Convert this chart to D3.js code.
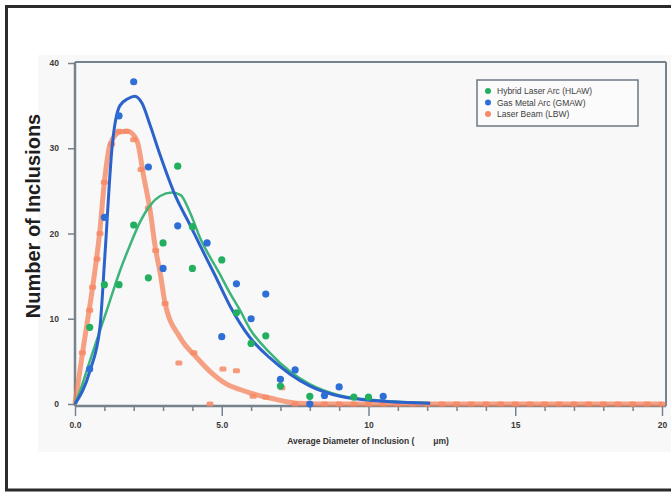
<!DOCTYPE html>
<html><head><meta charset="utf-8">
<script src="https://cdn.jsdelivr.net/npm/d3@7"></script>
<style>html,body{margin:0;padding:0;background:#fff;}svg{display:block;}</style>
</head><body>
<svg id="chart" width="671" height="494"></svg>
<script>
// ---- data ----
const xTickValues = [0, 5, 10, 15, 20];
const xTickLabels = ["0.0", "5.0", "10", "15", "20"];
const yTickValues = [0, 10, 20, 30, 40];
const yTickLabels = ["0", "10", "20", "30", "40"];
const seriesNames = ["Hybrid Laser Arc (HLAW)", "Gas Metal Arc (GMAW)", "Laser Beam (LBW)"];

const hlawX = [0.5, 1.0, 1.5, 2.0, 2.5, 3.0, 3.5, 4.0, 4.0, 5.0, 5.5, 6.0, 6.5, 7.0, 8.0, 9.5, 10.0];
const hlawY = [9, 14, 14, 21, 14.8, 18.9, 27.9, 20.8, 15.9, 16.9, 10.7, 7.1, 8.0, 2.1, 0.9, 0.8, 0.8];

const gmawX = [0.5, 1.0, 1.5, 2.0, 2.5, 3.0, 3.5, 4.5, 5.0, 5.5, 6.0, 6.5, 7.0, 7.5, 8.0, 8.5, 9.0, 10.5];
const gmawY = [4.1, 21.9, 33.8, 37.8, 27.8, 15.9, 20.9, 18.9, 7.9, 14.1, 10.0, 12.9, 2.9, 4.0, 0, 1.0, 2.0, 0.9];

const lbwX = [0.25, 0.5, 0.6, 0.75, 0.85, 1.0, 1.25, 1.5, 1.75, 2.0, 2.25, 2.5, 2.75, 3.07, 3.54, 4.05, 4.6, 5.04, 5.5, 6.07, 6.5, 7.05,
  7.5, 8.0, 8.5, 9.0, 9.5, 10.0, 10.5, 11.0, 11.5, 12.0, 12.5, 13.0, 13.5, 14.0, 14.5, 15.0, 15.5, 16.0, 16.5, 17.0, 17.5, 18.0, 18.5, 19.0, 19.5, 20.0];
const lbwY = [6, 11, 13.7, 17, 20, 26, 30.5, 32, 32, 31, 27.5, 23, 18, 11.8, 4.8, 6.0, 0, 4.1, 3.9, 0.9, 0.8, 1.9,
  0, 0, 0, 0, 0, 0, 0, 0, 0, 0, 0, 0, 0, 0, 0, 0, 0, 0, 0, 0, 0, 0, 0, 0, 0, 0];

// fitted curves
const hlawFitX = [0, 0.17, 0.51, 0.85, 1.19, 1.53, 1.87, 2.21, 2.56, 2.9, 3.3, 3.6, 3.9, 4.26, 4.94, 5.28, 5.62, 5.96, 6.64, 7.33, 8.01, 9.03, 10.39, 12.1];
const hlawFitY = [0, 1.5, 5.1, 8.6, 12.1, 15.6, 18.6, 21.3, 23.3, 24.4, 24.8, 24.5, 22.6, 19.5, 15.2, 13.0, 11.0, 8.8, 6.0, 3.8, 2.3, 1.0, 0.4, 0.1];

const gmawFitX = [0, 0.51, 0.85, 1.02, 1.26, 1.53, 1.8, 2.04, 2.28, 2.56, 2.9, 3.41, 3.92, 4.26, 4.77, 5.28, 5.96, 6.64, 7.33, 8.01, 9.03, 10.39, 12.1];
const gmawFitY = [0, 3.9, 9.0, 17.5, 30.0, 35.0, 35.8, 36.1, 35.3, 32.7, 29.2, 24.5, 21.0, 18.6, 15.1, 11.5, 7.8, 5.4, 3.5, 2.1, 0.9, 0.35, 0.1];

const lbwFitX = [0, 0.3, 0.6, 0.85, 1.0, 1.2, 1.53, 1.8, 2.11, 2.35, 2.56, 2.73, 2.92, 3.07, 3.58, 4.16, 4.7, 5.18, 5.62, 5.96, 6.64, 7.56, 9.0, 20.0];
const lbwFitY = [0, 7, 13.7, 20.4, 26, 30.5, 31.9, 32.0, 30.9, 26.5, 22.7, 18.5, 15.0, 11.8, 7.8, 5.4, 3.5, 2.3, 1.7, 1.3, 0.7, 0.1, 0, 0];

// ---- drawing ----
const svg = d3.select("#chart");
const FONT = "Liberation Sans, Arial, sans-serif";

// outer frame
svg.append("rect").attr("x", 6.5).attr("y", 6.5).attr("width", 700).attr("height", 483.5)
  .attr("fill", "#fff").attr("stroke", "#2b2b2b").attr("stroke-width", 3);
// chart picture background
svg.append("rect").attr("x", 38).attr("y", 55).attr("width", 640).attr("height", 397)
  .attr("fill", "#f9f8f8");

const x = d3.scaleLinear().domain([0, 20]).range([75, 662]);
const y = d3.scaleLinear().domain([0, 40]).range([404, 63]);

const axisColor = "#76828c";

// plot frame top & right
svg.append("line").attr("x1", 75).attr("x2", 666).attr("y1", 62).attr("y2", 62)
  .attr("stroke", axisColor).attr("stroke-width", 2);
svg.append("line").attr("x1", 666).attr("x2", 666).attr("y1", 62).attr("y2", 406)
  .attr("stroke", axisColor).attr("stroke-width", 2);

// x axis minor ticks
const xMinor = d3.range(0, 21).filter(v => v % 5 !== 0);
const xAxisMinor = d3.axisBottom(x).tickValues(xMinor).tickSize(5).tickFormat("");
const gxm = svg.append("g").attr("transform", "translate(0,406)").call(xAxisMinor);
gxm.select(".domain").remove();
gxm.selectAll("line").attr("stroke", axisColor).attr("stroke-width", 1.5);

const xAxis = d3.axisBottom(x).tickValues(xTickValues).tickSize(10).tickPadding(6)
  .tickFormat((d, i) => xTickLabels[i]);
const gx = svg.append("g").attr("transform", "translate(0,406)").call(xAxis);
gx.select(".domain").attr("stroke", axisColor).attr("stroke-width", 2.5).attr("d", "M75,0H666");
gx.selectAll("line").attr("stroke", axisColor).attr("stroke-width", 1.5);
gx.selectAll("text").attr("fill", "#3a3a3a").attr("font-family", FONT)
  .attr("font-size", 8.5).attr("font-weight", "bold");

const yAxis = d3.axisLeft(y).tickValues(yTickValues).tickSize(7).tickPadding(9)
  .tickFormat((d, i) => yTickLabels[i]);
const gy = svg.append("g").attr("transform", "translate(75,0)").call(yAxis);
gy.select(".domain").attr("stroke", axisColor).attr("stroke-width", 2.5).attr("d", "M0,62V406");
gy.selectAll("line").attr("stroke", axisColor).attr("stroke-width", 1.5);
gy.selectAll("text").attr("fill", "#3a3a3a").attr("font-family", FONT)
  .attr("font-size", 8.5).attr("font-weight", "bold");

// axis titles
svg.append("text").attr("x", 368).attr("y", 444).attr("text-anchor", "middle")
  .attr("font-family", FONT).attr("font-size", 8.5)
  .attr("font-weight", "bold").attr("fill", "#333").attr("xml:space", "preserve")
  .style("white-space", "pre")
  .text("Average Diameter of Inclusion (        μm)");
svg.append("text").attr("transform", "translate(40,216) rotate(-90)").attr("text-anchor", "middle")
  .attr("font-family", FONT).attr("font-size", 20)
  .attr("font-weight", "bold").attr("fill", "#1e1e1e")
  .text("Number of Inclusions");

const colGreen = "#22b060", colBlue = "#2d6fd6", colOrange = "#f58a66";
const colGreenLine = "#3cb47a", colBlueLine = "#2c62cc", colOrangeLine = "#f4835c";

const line = d3.line().x(d => x(d[0])).y(d => y(d[1])).curve(d3.curveMonotoneX);
const zip = (a, b) => a.map((v, i) => [v, b[i]]);

// orange fit (thick)
svg.append("path").datum(zip(lbwFitX, lbwFitY)).attr("d", line)
  .attr("fill", "none").attr("stroke", colOrangeLine).attr("stroke-width", 5).attr("stroke-opacity", 0.75)
  .attr("stroke-linejoin", "round");
// orange points
svg.append("g").selectAll("rect").data(zip(lbwX, lbwY)).join("rect")
  .attr("x", d => x(d[0]) - 3.5).attr("y", d => y(d[1]) - 2.5).attr("width", 7).attr("height", 5)
  .attr("rx", 1.5).attr("fill", colOrange).attr("fill-opacity", 0.85);

// green fit
svg.append("path").datum(zip(hlawFitX, hlawFitY)).attr("d", line)
  .attr("fill", "none").attr("stroke", colGreenLine).attr("stroke-width", 2.5);
// blue fit
svg.append("path").datum(zip(gmawFitX, gmawFitY)).attr("d", line)
  .attr("fill", "none").attr("stroke", colBlueLine).attr("stroke-width", 3);

svg.append("g").selectAll("circle").data(zip(hlawX, hlawY)).join("circle")
  .attr("cx", d => x(d[0])).attr("cy", d => y(d[1])).attr("r", 3.6).attr("fill", colGreen);
svg.append("g").selectAll("circle").data(zip(gmawX, gmawY)).join("circle")
  .attr("cx", d => x(d[0])).attr("cy", d => y(d[1])).attr("r", 3.6).attr("fill", colBlue);

// legend
const lg = svg.append("g");
lg.append("rect").attr("x", 477).attr("y", 80).attr("width", 161).attr("height", 46)
  .attr("fill", "#fbfbfb").attr("stroke", "#6d7780").attr("stroke-width", 1.5);
const legCols = [colGreen, colBlue, colOrange];
seriesNames.forEach((n, i) => {
  const yy = 91 + i * 11.5;
  lg.append("circle").attr("cx", 488).attr("cy", yy).attr("r", 3).attr("fill", legCols[i]);
  lg.append("text").attr("x", 497).attr("y", yy + 3).attr("font-family", FONT)
    .attr("font-size", 8.5).attr("fill", "#3d3d3d").text(n);
});
</script>
</body></html>
